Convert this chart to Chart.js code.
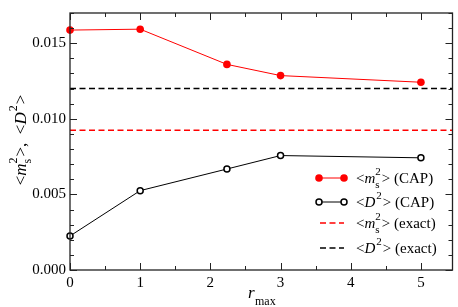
<!DOCTYPE html>
<html>
<head>
<meta charset="utf-8">
<script src="https://cdn.jsdelivr.net/npm/chart.js@4"></script>
<style>
  html, body { margin: 0; padding: 0; background: #fff; }
  #wrap { width: 458px; height: 307px; }
</style>
</head>
<body>
<div id="wrap"><canvas id="chart" width="458" height="307"></canvas></div>
<script>
// --- DATA ---
const rmax = [0, 1, 2.236, 3, 5];
const m2Cap = [0.01587, 0.01593, 0.01360, 0.01286, 0.01242];
const d2Cap = [0.00225, 0.00525, 0.00668, 0.00757, 0.00742];
const m2Exact = 0.00925;
const d2Exact = 0.0120;
const xRange = [0, 5.45];
const yRange = [0, 0.017];

const SERIF = '"Liberation Serif", "DejaVu Serif", serif';

// draw text made of pieces: {t, it, pos: 'base'|'sub'|'sup'|'both', s2}
function richText(ctx, parts, x, y, size) {
  let cx = x;
  const small = Math.round(size * 0.7);
  parts.forEach(p => {
    ctx.font = (p.it ? 'italic ' : '') + size + 'px ' + SERIF;
    if (p.pos === 'both') {
      ctx.font = small + 'px ' + SERIF;
      const w1 = ctx.measureText(p.t).width;
      const w2 = ctx.measureText(p.s2).width;
      ctx.fillText(p.t, cx, y + size * 0.3);
      ctx.fillText(p.s2, cx, y - size * 0.55);
      cx += Math.max(w1, w2) + 1;
    } else if (p.pos === 'sup') {
      ctx.font = small + 'px ' + SERIF;
      ctx.fillText(p.t, cx + 1, y - size * 0.55);
      cx += ctx.measureText(p.t).width + 2;
    } else if (p.pos === 'sub') {
      ctx.font = small + 'px ' + SERIF;
      ctx.fillText(p.t, cx, y + size * 0.3);
      cx += ctx.measureText(p.t).width;
    } else {
      ctx.fillText(p.t, cx, y);
      cx += ctx.measureText(p.t).width;
    }
  });
  return cx - x;
}

function measureRich(ctx, parts, size) {
  ctx.save();
  ctx.globalAlpha = 0;
  const w = richText(ctx, parts, 0, 0, size);
  ctx.restore();
  return w;
}

const mParts = [{t: '<'}, {t: 'm', it: true}, {t: 's', pos: 'both', s2: '2'}, {t: '>'}];
const dParts = [{t: '<'}, {t: 'D', it: true}, {t: '2', pos: 'sup'}, {t: '>'}];

// --- frame, inward ticks, titles, legend ---
const decor = {
  id: 'decor',
  afterDraw(chart) {
    const ctx = chart.ctx;
    const a = chart.chartArea;
    const xs = chart.scales.x, ys = chart.scales.y;
    ctx.save();
    ctx.strokeStyle = '#222';
    ctx.lineWidth = 1.3;
    ctx.strokeRect(a.left, a.top, a.right - a.left, a.bottom - a.top);
    ctx.lineWidth = 1;
    ctx.beginPath();
    xs.ticks.forEach(t => {
      const q = t.value / 0.5;
      if (Math.abs(q - Math.round(q)) > 1e-6) return;
      const len = Math.round(q) % 2 === 0 ? 7 : 4;
      const px = Math.round(xs.getPixelForValue(t.value)) + 0.5;
      ctx.moveTo(px, a.bottom); ctx.lineTo(px, a.bottom - len);
      ctx.moveTo(px, a.top); ctx.lineTo(px, a.top + len);
    });
    ys.ticks.forEach(t => {
      const q = t.value / 0.005;
      const len = Math.abs(q - Math.round(q)) < 1e-6 ? 7 : 4;
      const py = Math.round(ys.getPixelForValue(t.value)) + 0.5;
      ctx.moveTo(a.left, py); ctx.lineTo(a.left + len, py);
      ctx.moveTo(a.right, py); ctx.lineTo(a.right - len, py);
    });
    ctx.stroke();

    ctx.fillStyle = '#000';
    ctx.textBaseline = 'alphabetic';
    ctx.textAlign = 'left';

    // y title
    const yParts = mParts.concat([{t: ',  '}]).concat(dParts);
    const yw = measureRich(ctx, yParts, 17);
    ctx.save();
    ctx.translate(26, 140);
    ctx.rotate(-Math.PI / 2);
    richText(ctx, yParts, -yw / 2, 0, 17);
    ctx.restore();

    // x title
    ctx.font = 'italic 17px ' + SERIF;
    ctx.fillText('r', 248, 298);
    ctx.font = '12px ' + SERIF;
    ctx.fillText('max', 255, 305);

    // legend
    const rows = [
      {y: 178, color: '#ff0000', kind: 'dot', parts: mParts.concat([{t: ' (CAP)'}])},
      {y: 202, color: '#000', kind: 'ring', parts: dParts.concat([{t: ' (CAP)'}])},
      {y: 223, color: '#ff0000', kind: 'dash', parts: mParts.concat([{t: ' (exact)'}])},
      {y: 248, color: '#000', kind: 'dash', parts: dParts.concat([{t: ' (exact)'}])}
    ];
    rows.forEach(r => {
      ctx.strokeStyle = r.color;
      if (r.kind === 'dash') {
        ctx.lineWidth = 1.5;
        ctx.setLineDash([6, 3.5]);
        ctx.beginPath(); ctx.moveTo(320, r.y); ctx.lineTo(344, r.y); ctx.stroke();
        ctx.setLineDash([]);
      } else {
        ctx.lineWidth = 1;
        ctx.beginPath(); ctx.moveTo(319, r.y); ctx.lineTo(344, r.y); ctx.stroke();
        [319, 344].forEach(px => {
          ctx.beginPath();
          ctx.arc(px, r.y, r.kind === 'dot' ? 3.8 : 3, 0, Math.PI * 2);
          if (r.kind === 'dot') { ctx.fillStyle = r.color; ctx.fill(); }
          else { ctx.fillStyle = '#fff'; ctx.fill(); ctx.lineWidth = 1.5; ctx.stroke(); }
        });
      }
      ctx.fillStyle = '#000';
      richText(ctx, r.parts, 356, r.y + 5, 15);
    });
    ctx.restore();
  }
};

const pts = (xs, ys) => xs.map((x, i) => ({x: x, y: ys[i]}));
const flat = v => [{x: xRange[0], y: v}, {x: xRange[1], y: v}];

new Chart(document.getElementById('chart'), {
  type: 'line',
  data: {
    datasets: [
      { label: 'm2 CAP', data: pts(rmax, m2Cap), borderColor: '#ff0000', backgroundColor: '#ff0000',
        borderWidth: 1, pointRadius: 3.8, pointBorderWidth: 0, pointBackgroundColor: '#ff0000', clip: false },
      { label: 'D2 CAP', data: pts(rmax, d2Cap), borderColor: '#000', borderWidth: 1,
        pointRadius: 3, pointBorderWidth: 1.5, pointBackgroundColor: '#fff', pointBorderColor: '#000', clip: false },
      { label: 'm2 exact', data: flat(m2Exact), borderColor: '#ff0000', borderWidth: 1.5,
        borderDash: [6, 3.5], pointRadius: 0 },
      { label: 'D2 exact', data: flat(d2Exact), borderColor: '#000', borderWidth: 1.5,
        borderDash: [6, 3.5], pointRadius: 0 }
    ]
  },
  options: {
    responsive: false,
    animation: false,
    events: [],
    layout: { padding: { top: 1, right: 3, left: 0, bottom: 0 } },
    plugins: { legend: { display: false }, tooltip: { enabled: false } },
    elements: { line: { tension: 0 } },
    scales: {
      x: {
        type: 'linear', min: xRange[0], max: xRange[1],
        grid: { display: false, drawTicks: false }, border: { display: false },
        afterFit: s => { s.height = 37; },
        ticks: {
          stepSize: 0.5, includeBounds: false, autoSkip: false, maxRotation: 0, padding: 4, color: '#000',
          font: { family: SERIF, size: 15 },
          callback: v => (Math.abs(v - Math.round(v)) < 1e-6 ? String(Math.round(v)) : '')
        }
      },
      y: {
        type: 'linear', min: yRange[0], max: yRange[1],
        grid: { display: false, drawTicks: false }, border: { display: false },
        afterFit: s => { s.width = 70; },
        ticks: {
          stepSize: 0.001, autoSkip: false, padding: 4, color: '#000',
          font: { family: SERIF, size: 15 },
          callback: v => {
            const q = v / 0.005;
            return Math.abs(q - Math.round(q)) < 1e-6 ? v.toFixed(3) : '';
          }
        }
      }
    }
  },
  plugins: [decor]
});
</script>
</body>
</html>
